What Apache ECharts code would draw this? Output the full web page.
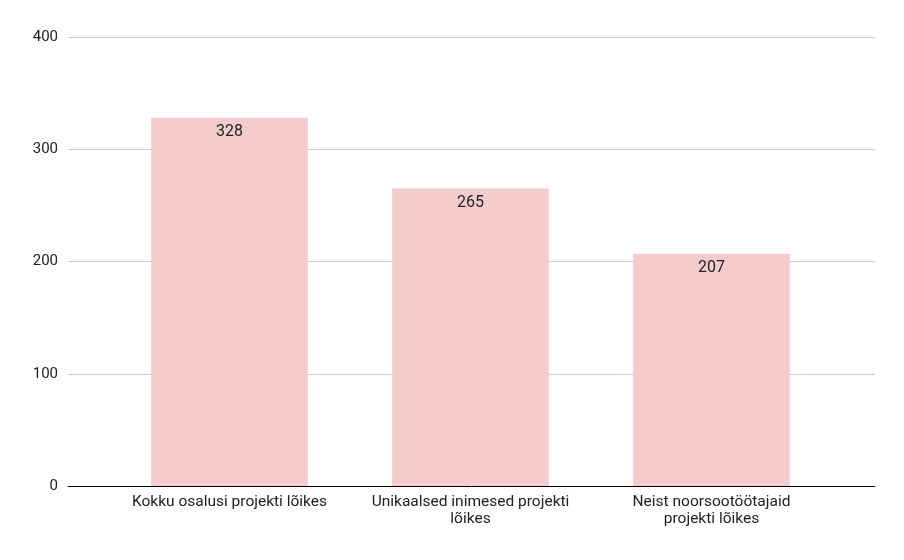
<!DOCTYPE html>
<html>
<head>
<meta charset="utf-8">
<script src="https://cdn.jsdelivr.net/npm/echarts@6/dist/echarts.min.js"></script>
<style>html,body{margin:0;padding:0;background:#fff}#chart{width:904px;height:560px}</style>
</head>
<body>
<div id="chart"></div>
<script>
const categories = ['Kokku osalusi projekti lõikes', 'Unikaalsed inimesed projekti\nlõikes', 'Neist noorsootöötajaid\nprojekti lõikes']
const values = [328, 265, 207]

const myChart = echarts.init(document.getElementById('chart'))
// grid 0 carries the gridlines and baseline across the full width, grid 1 holds the bars
myChart.setOption({
    animation: false,
    textStyle: { fontFamily: 'Roboto' },
    grid: [
        { left: 68, right: 29, top: 37, bottom: 74 },
        { left: 109, right: 72, top: 37, bottom: 74 }
    ],
    xAxis: [
        {
            gridIndex: 0, type: 'value', min: 0, max: 1,
            axisLine: { show: true, onZero: false, lineStyle: { color: '#000' } },
            axisTick: { show: false }, axisLabel: { show: false }, splitLine: { show: false }
        },
        {
            gridIndex: 1, type: 'category', data: categories,
            axisLine: { show: false }, axisTick: { show: false },
            axisLabel: { color: '#222', fontSize: 15.5, interval: 0, lineHeight: 17, margin: 8 }
        }
    ],
    yAxis: [
        {
            gridIndex: 0, type: 'value', min: 0, max: 400, interval: 100,
            axisLine: { show: false }, axisTick: { show: false },
            axisLabel: { color: '#222', fontSize: 15, margin: 10 },
            splitLine: { lineStyle: { color: '#ccc' } }
        },
        {
            gridIndex: 1, type: 'value', min: 0, max: 400, interval: 100,
            show: false
        }
    ],
    series: [{
        type: 'bar',
        xAxisIndex: 1,
        yAxisIndex: 1,
        data: values,
        barWidth: '65%',
        itemStyle: { color: '#f4cccc' },
        label: { show: true, position: 'insideTop', color: '#222', fontSize: 16, distance: 6 }
    }]
})
</script>
</body>
</html>
